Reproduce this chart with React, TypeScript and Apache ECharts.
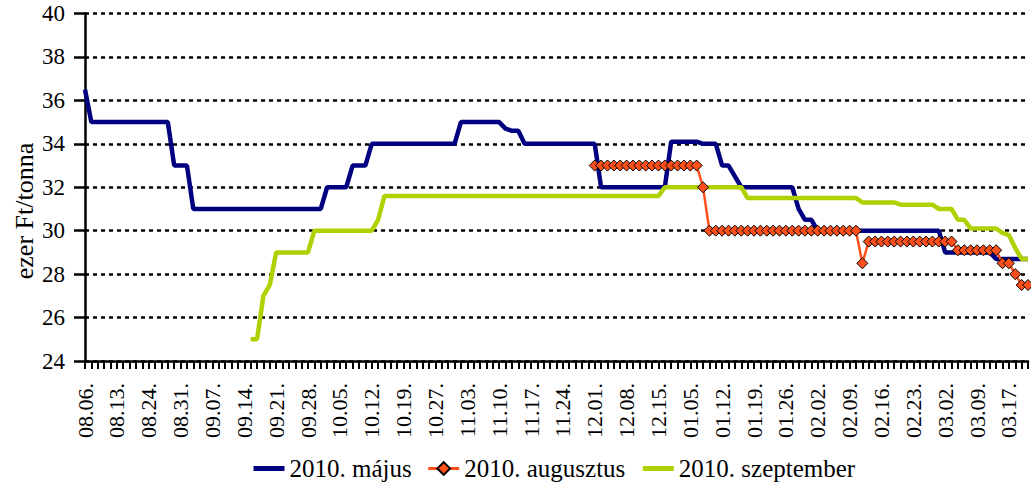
import React, { useEffect, useRef } from 'react';
import * as echarts from 'echarts';

// Trading days (labels shown every 5th day)
const categories = [
  '08.06', '08.09', '08.10', '08.11', '08.12', '08.13', '08.16', '08.17', '08.18', '08.23',
  '08.24', '08.25', '08.26', '08.27', '08.30', '08.31', '09.01', '09.02', '09.03', '09.06',
  '09.07', '09.08', '09.09', '09.10', '09.13', '09.14', '09.15', '09.16', '09.17', '09.20',
  '09.21', '09.22', '09.23', '09.24', '09.27', '09.28', '09.29', '09.30', '10.01', '10.04',
  '10.05', '10.06', '10.07', '10.08', '10.11', '10.12', '10.13', '10.14', '10.15', '10.18',
  '10.19', '10.20', '10.21', '10.22', '10.25', '10.27', '10.28', '10.29', '11.01', '11.02',
  '11.03', '11.04', '11.05', '11.08', '11.09', '11.10', '11.11', '11.12', '11.15', '11.16',
  '11.17', '11.18', '11.19', '11.22', '11.23', '11.24', '11.25', '11.26', '11.29', '11.30',
  '12.01', '12.02', '12.03', '12.06', '12.07', '12.08', '12.09', '12.10', '12.13', '12.14',
  '12.15', '12.16', '12.17', '12.20', '12.21', '01.05', '01.06', '01.07', '01.10', '01.11',
  '01.12', '01.13', '01.14', '01.17', '01.18', '01.19', '01.20', '01.21', '01.24', '01.25',
  '01.26', '01.27', '01.28', '01.31', '02.01', '02.02', '02.03', '02.04', '02.07', '02.08',
  '02.09', '02.10', '02.11', '02.14', '02.15', '02.16', '02.17', '02.18', '02.21', '02.22',
  '02.23', '02.24', '02.25', '02.28', '03.01', '03.02', '03.03', '03.04', '03.07', '03.08',
  '03.09', '03.10', '03.11', '03.14', '03.16', '03.17', '03.18', '03.21', '03.22',
];

// 2010. május
const mayValues = [
  36.5,
  35, 35, 35, 35, 35, 35, 35, 35, 35, 35, 35, 35, 35,
  33, 33, 33,
  31, 31, 31, 31, 31, 31, 31, 31, 31, 31, 31, 31, 31, 31, 31, 31, 31, 31, 31, 31, 31,
  32, 32, 32, 32,
  33, 33, 33,
  34, 34, 34, 34, 34, 34, 34, 34, 34, 34, 34, 34, 34, 34,
  35, 35, 35, 35, 35, 35, 35,
  34.7, 34.6, 34.6,
  34, 34, 34, 34, 34, 34, 34, 34, 34, 34, 34, 34,
  32, 32, 32, 32, 32, 32, 32, 32, 32, 32, 32,
  34.1, 34.1, 34.1, 34.1, 34.1,
  34, 34, 34,
  33, 33,
  32.5,
  32, 32, 32, 32, 32, 32, 32, 32, 32,
  31,
  30.5, 30.5,
  30, 30, 30, 30, 30, 30, 30, 30, 30, 30, 30, 30, 30, 30, 30, 30, 30, 30, 30, 30,
  29, 29, 29, 29, 29, 29, 29, 29,
  28.7, 28.7, 28.7, 28.7, 28.7, 28.7,
];

// 2010. augusztus
const augValues = [
  null, null, null, null, null, null, null, null, null, null,
  null, null, null, null, null, null, null, null, null, null,
  null, null, null, null, null, null, null, null, null, null,
  null, null, null, null, null, null, null, null, null, null,
  null, null, null, null, null, null, null, null, null, null,
  null, null, null, null, null, null, null, null, null, null,
  null, null, null, null, null, null, null, null, null, null,
  null, null, null, null, null, null, null, null, null, null,
  33, 33, 33, 33, 33, 33, 33, 33, 33, 33, 33, 33, 33, 33, 33, 33, 33,
  32,
  30, 30, 30, 30, 30, 30, 30, 30, 30, 30, 30, 30,
  30, 30, 30, 30, 30, 30, 30, 30, 30, 30, 30, 30,
  28.5,
  29.5, 29.5, 29.5, 29.5, 29.5, 29.5, 29.5, 29.5, 29.5, 29.5, 29.5, 29.5, 29.5, 29.5,
  29.1, 29.1, 29.1, 29.1, 29.1, 29.1, 29.1,
  28.5, 28.5,
  28,
  27.5, 27.5,
];

// 2010. szeptember
const sepValues = [
  null, null, null, null, null, null, null, null, null, null,
  null, null, null, null, null, null, null, null, null, null,
  null, null, null, null, null, null,
  25, 25,
  27, 27.5,
  29, 29, 29, 29, 29, 29,
  30, 30, 30, 30, 30, 30, 30, 30, 30, 30,
  30.5,
  31.6, 31.6, 31.6, 31.6, 31.6, 31.6, 31.6, 31.6, 31.6, 31.6,
  31.6, 31.6, 31.6, 31.6, 31.6, 31.6, 31.6, 31.6, 31.6, 31.6,
  31.6, 31.6, 31.6, 31.6, 31.6, 31.6, 31.6, 31.6, 31.6, 31.6,
  31.6, 31.6, 31.6, 31.6, 31.6, 31.6, 31.6, 31.6, 31.6, 31.6,
  31.6, 31.6, 31.6, 31.6,
  32, 32, 32, 32, 32, 32, 32, 32, 32, 32, 32, 32, 32,
  31.5, 31.5, 31.5, 31.5, 31.5, 31.5, 31.5, 31.5, 31.5,
  31.5, 31.5, 31.5, 31.5, 31.5, 31.5, 31.5, 31.5, 31.5,
  31.3, 31.3, 31.3, 31.3, 31.3, 31.3,
  31.2, 31.2, 31.2, 31.2, 31.2, 31.2,
  31, 31, 31,
  30.5, 30.5,
  30.1, 30.1, 30.1, 30.1, 30.1,
  29.9, 29.8, 29.2, 28.7, 28.7,
];

const seriesNames = ['2010. május', '2010. augusztus', '2010. szeptember'];
const FONT = 'Liberation Serif';

export default function App() {
  const ref = useRef<HTMLDivElement>(null);

  useEffect(() => {
    if (!ref.current) return;
    const chart = echarts.init(ref.current, undefined, { renderer: 'svg' });
    chart.setOption({
      animation: false,
      backgroundColor: '#ffffff',
      textStyle: { fontFamily: FONT },
      grid: { left: 85, right: 3, top: 13.5, bottom: 126, outerBoundsMode: 'none' },
      xAxis: {
        type: 'category',
        data: categories,
        boundaryGap: false,
        axisLine: { lineStyle: { color: '#000', width: 2.5 } },
        axisTick: { show: true, interval: 0, length: 8, lineStyle: { color: '#000', width: 2 } },
        axisLabel: {
          interval: 4,
          rotate: 90,
          margin: 22,
          fontFamily: FONT,
          fontSize: 22,
          color: '#000',
          formatter: (v: string) => v + '.',
        },
        splitLine: { show: false },
      },
      yAxis: {
        type: 'value',
        min: 24,
        max: 40,
        interval: 2,
        axisLine: { show: true, lineStyle: { color: '#000', width: 2.5 } },
        axisTick: { show: true, length: 11, lineStyle: { color: '#000', width: 2.5 } },
        axisLabel: { margin: 20, fontFamily: FONT, fontSize: 23, color: '#000' },
        splitLine: { show: true, lineStyle: { color: '#000', width: 2.5, type: [4, 4] } },
      },
      legend: {
        left: 251,
        top: 456,
        padding: 0,
        itemWidth: 31,
        itemHeight: 16,
        itemGap: 15,
        selectedMode: false,
        textStyle: { fontFamily: FONT, fontSize: 25, color: '#000' },
        data: [
          { name: seriesNames[0], itemStyle: { opacity: 0 }, lineStyle: { width: 5 } },
          { name: seriesNames[1], lineStyle: { width: 3 } },
          { name: seriesNames[2], itemStyle: { opacity: 0 }, lineStyle: { width: 5 } },
        ],
      },
      graphic: [
        {
          type: 'text',
          x: 24,
          y: 211,
          rotation: Math.PI / 2,
          style: {
            text: 'ezer Ft/tonna',
            fontFamily: FONT,
            fontSize: 26,
            fill: '#000',
            align: 'center',
            verticalAlign: 'middle',
            textAlign: 'center',
            textVerticalAlign: 'middle',
          },
        },
      ],
      series: [
        {
          name: seriesNames[0],
          type: 'line',
          data: mayValues,
          symbol: 'none',
          lineStyle: { color: '#000080', width: 4.5 },
          itemStyle: { color: '#000080' },
        },
        {
          name: seriesNames[2],
          type: 'line',
          data: sepValues,
          symbol: 'none',
          lineStyle: { color: '#B0D000', width: 4.5 },
          itemStyle: { color: '#B0D000' },
        },
        {
          name: seriesNames[1],
          type: 'line',
          data: augValues,
          symbol: 'diamond',
          symbolSize: 11,
          showAllSymbol: true,
          lineStyle: { color: '#FF4F1A', width: 2.5 },
          itemStyle: { color: '#FF4F1A', borderColor: '#000', borderWidth: 1 },
        },
      ],
    });
    return () => chart.dispose();
  }, []);

  return (
    <div
      ref={ref}
      style={{ position: 'fixed', left: 0, top: 0, width: 1031, height: 487, background: '#fff' }}
    />
  );
}
